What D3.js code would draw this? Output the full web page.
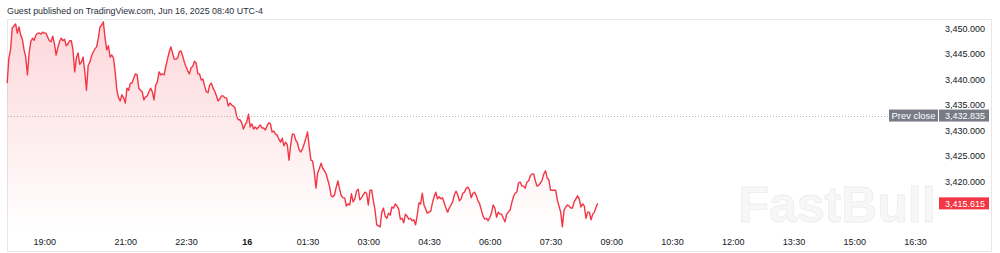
<!DOCTYPE html>
<html><head><meta charset="utf-8">
<script src="https://cdn.jsdelivr.net/npm/d3@7/dist/d3.min.js"></script>
<style>
html,body{margin:0;padding:0;background:#fff;}
svg{display:block;}
text{font-family:"Liberation Sans",Arial,sans-serif;}
</style></head>
<body>
<svg id="chart" width="1000" height="253"></svg>
<script>
// ---- data ----
const startTime = "2025-06-15T18:05";
const stepSeconds = 150; // 2.5-minute samples
const prices = [
3439.2,3444.1, 3445.7,3450.0, 3450.4,3450.8, 3449.0,3450.2, 3448.6,3447.8,
3445.7,3444.3, 3440.8,3445.1, 3447.3,3448.0, 3447.6,3448.6, 3449.0,3449.0,
3448.8,3449.2, 3449.0,3449.0, 3448.2,3447.5, 3447.3,3448.4, 3446.9,3444.7,
3446.1,3447.3, 3448.0,3447.5, 3447.8,3446.5, 3446.9,3447.5, 3447.5,3445.7,
3441.4,3444.1, 3445.1,3442.9, 3443.3,3444.3, 3441.4,3437.8, 3442.7,3443.3,
3444.5,3445.3, 3445.9,3446.3, 3448.0,3450.2, 3450.6,3451.2, 3448.0,3445.7,
3446.5,3444.3, 3444.7,3444.1, 3441.4,3437.8, 3436.3,3435.7, 3436.9,3436.3,
3435.3,3438.2, 3437.8,3439.2, 3439.2,3440.2, 3441.0,3440.8, 3438.2,3437.8,
3437.5,3435.9, 3436.5,3436.7, 3437.5,3438.2, 3437.5,3435.9, 3438.8,3439.4,
3441.4,3440.8, 3441.0,3440.8, 3442.5,3443.9, 3445.3,3446.3, 3445.1,3443.9,
3443.9,3444.1, 3445.3,3445.5, 3444.5,3443.3, 3442.4,3441.6, 3441.0,3442.2,
3442.5,3443.5, 3443.1,3441.0, 3441.0,3439.8, 3440.0,3438.6, 3437.5,3437.3,
3438.8,3439.2, 3438.2,3437.6, 3436.7,3435.7, 3436.1,3436.7, 3436.7,3436.3,
3436.3,3434.7, 3435.3,3434.9, 3434.7,3434.3, 3432.7,3432.0, 3432.0,3431.4,
3430.2,3431.0, 3431.6,3433.1, 3430.6,3431.2, 3430.2,3430.6, 3430.2,3430.6,
3431.0,3430.4, 3430.4,3430.0, 3430.8,3431.4, 3431.2,3429.6, 3429.8,3429.2,
3429.0,3428.2, 3427.6,3428.4, 3426.9,3427.6, 3427.1,3424.1, 3427.1,3429.2,
3429.2,3428.0, 3427.5,3426.1, 3425.7,3426.3, 3427.3,3428.4, 3429.6,3426.7,
3424.1,3423.9, 3421.8,3418.6, 3421.6,3422.4, 3423.5,3422.5, 3422.0,3421.4,
3420.2,3419.0, 3417.1,3416.9, 3417.3,3418.8, 3420.0,3418.4, 3417.1,3416.7,
3416.7,3415.1, 3415.5,3415.3, 3417.5,3415.9, 3416.5,3418.0, 3418.4,3416.3,
3416.7,3417.3, 3417.8,3417.6, 3415.3,3418.2, 3418.2,3416.1, 3414.3,3411.4,
3411.2,3411.0, 3413.9,3414.7, 3413.1,3412.7, 3413.7,3413.3, 3414.9,3414.7,
3415.5,3415.1, 3414.5,3412.5, 3412.7,3411.8, 3413.5,3413.1, 3412.5,3412.7,
3412.2,3412.4, 3411.4,3413.3, 3415.7,3415.5, 3417.6,3415.3, 3414.5,3413.7,
3413.9,3414.1, 3415.7,3416.9, 3417.8,3416.5, 3416.9,3416.5, 3416.7,3415.7,
3414.7,3413.9, 3414.7,3415.3, 3415.9,3417.3, 3418.0,3417.3, 3416.1,3416.5,
3417.6,3417.8, 3418.6,3418.8, 3418.2,3416.7, 3417.6,3417.8, 3417.1,3416.1,
3415.5,3414.3, 3413.1,3412.5, 3412.7,3412.2, 3412.9,3413.7, 3415.3,3414.7,
3412.9,3413.9, 3413.5,3413.5, 3412.7,3412.0, 3413.5,3413.9, 3414.3,3415.7,
3416.9,3417.6, 3417.8,3419.6, 3419.8,3419.0, 3419.0,3418.6, 3419.8,3420.0,
3421.0,3421.4, 3421.4,3420.0, 3419.0,3419.2, 3419.6,3420.2, 3421.4,3422.0,
3420.6,3420.2, 3418.2,3418.2, 3418.2,3418.2, 3416.3,3415.1, 3413.9,3411.0,
3414.3,3414.9, 3415.3,3415.1, 3414.7,3414.7, 3415.9,3416.5, 3417.1,3416.5,
3414.9,3415.5, 3415.1,3412.7, 3413.9,3413.9, 3412.4,3413.5, 3413.9,3414.9,
3415.615
];
const prevClose = 3432.835;
const lastPrice = 3415.615;
const priceTicks = [3450, 3445, 3440, 3435, 3430, 3425, 3420];
const timeTickValues = ["2025-06-15T19:00","2025-06-15T21:00","2025-06-15T22:30","2025-06-16T00:00",
  "2025-06-16T01:30","2025-06-16T03:00","2025-06-16T04:30","2025-06-16T06:00","2025-06-16T07:30",
  "2025-06-16T09:00","2025-06-16T10:30","2025-06-16T12:00","2025-06-16T13:30","2025-06-16T15:00","2025-06-16T16:30"];
const timeTickLabels = ["19:00","21:00","22:30","16","01:30","03:00","04:30","06:00","07:30",
  "09:00","10:30","12:00","13:30","15:00","16:30"];
const domainStart = "2025-06-15T18:00";
const domainEnd = "2025-06-16T18:00";
const headerText = "Guest published on TradingView.com, Jun 16, 2025 08:40 UTC-4";

// ---- chart ----
(function () {
const parse = d3.timeParse("%Y-%m-%dT%H:%M");
const t0 = parse(startTime);
const series = prices.map((p, i) => ({t: d3.timeSecond.offset(t0, i * stepSeconds), v: p}));

const svg = d3.select("#chart");
const red = "#f23645";
const fL = 7, fR = 992, fT = 19, fB = 252, areaBase = 233;
const fs = 9;

const x = d3.scaleTime().domain([parse(domainStart), parse(domainEnd)]).range([3.8, 975.8]);
const y = d3.scaleLinear().domain([3420, 3450]).range([181, 28]);

// header
svg.append("text").attr("x", 7).attr("y", 14).attr("font-size", 8.9).attr("fill", "#2a2e39").text(headerText);

// frame
svg.append("rect").attr("x", fL + 0.5).attr("y", fT + 0.5).attr("width", fR - fL - 1).attr("height", fB - fT - 1)
  .attr("fill", "none").attr("stroke", "#e6e7ea").attr("stroke-width", 1);

// watermark
svg.append("text").attr("x", 837).attr("y", 222).attr("text-anchor", "middle")
  .attr("font-size", 50).attr("font-weight", "bold").attr("font-family", "Lato, 'Liberation Sans', sans-serif")
  .attr("fill", "#f7f7f7").attr("stroke", "#ececec").attr("stroke-width", 0.8).text("FastBull");

// gradient
const defs = svg.append("defs");
const grad = defs.append("linearGradient").attr("id", "g").attr("gradientUnits", "userSpaceOnUse")
  .attr("x1", 0).attr("x2", 0).attr("y1", 22).attr("y2", areaBase);
grad.append("stop").attr("offset", 0).attr("stop-color", red).attr("stop-opacity", 0.2);
grad.append("stop").attr("offset", 1).attr("stop-color", red).attr("stop-opacity", 0.0);

svg.append("path").datum(series)
  .attr("d", d3.area().x(d => x(d.t)).y0(areaBase).y1(d => y(d.v)))
  .attr("fill", "url(#g)");

// prev close line
const pcLineY = Math.round(y(prevClose)) + 0.5;
svg.append("line").attr("x1", fL + 1).attr("x2", 889).attr("y1", pcLineY).attr("y2", pcLineY)
  .attr("stroke", "#b2b5be").attr("stroke-width", 1).attr("stroke-dasharray", "1,2");

svg.append("path").datum(series)
  .attr("d", d3.line().x(d => x(d.t)).y(d => y(d.v)))
  .attr("fill", "none").attr("stroke", red).attr("stroke-width", 1.4).attr("stroke-linejoin", "round");

// y axis labels
const fmt = d3.format(",.3f");
const yAxis = d3.axisRight(y).tickValues(priceTicks).tickFormat(fmt).tickSize(0).tickPadding(0);
const gy = svg.append("g").attr("transform", "translate(985,0)").call(yAxis);
gy.select(".domain").remove();
gy.selectAll("text").attr("text-anchor", "end").attr("font-size", fs).attr("fill", "#131722")
  .attr("font-family", "'Liberation Sans',Arial,sans-serif").attr("dy", "0.35em");

// x axis labels
const xAxis = d3.axisBottom(x).tickValues(timeTickValues.map(parse))
  .tickFormat((d, i) => timeTickLabels[i]).tickSize(0).tickPadding(0);
const gx = svg.append("g").attr("transform", "translate(0,239)").call(xAxis);
gx.select(".domain").remove();
gx.selectAll("text").attr("font-size", fs).attr("fill", "#131722")
  .attr("font-family", "'Liberation Sans',Arial,sans-serif")
  .attr("font-weight", (d, i) => timeTickLabels[i] === "16" ? "bold" : "normal");

// prev close badge
const pcY = y(prevClose);
svg.append("rect").attr("x", 889).attr("y", pcY - 6).attr("width", 49).attr("height", 12).attr("fill", "#787b86");
svg.append("rect").attr("x", 939).attr("y", pcY - 6).attr("width", 50).attr("height", 12).attr("fill", "#787b86");
svg.append("text").attr("x", 913.5).attr("y", pcY).attr("dy", "0.35em").attr("text-anchor", "middle")
  .attr("font-size", 9.4).attr("fill", "#fff").text("Prev close");
svg.append("text").attr("x", 985).attr("y", pcY).attr("dy", "0.35em").attr("text-anchor", "end")
  .attr("font-size", fs).attr("fill", "#fff").text(fmt(prevClose));

// last price badge
const lpY = y(lastPrice);
svg.append("rect").attr("x", 939).attr("y", lpY - 6).attr("width", 50).attr("height", 12).attr("fill", red);
svg.append("text").attr("x", 985).attr("y", lpY).attr("dy", "0.35em").attr("text-anchor", "end")
  .attr("font-size", fs).attr("fill", "#fff").text(fmt(lastPrice));
})();
</script>
</body></html>
